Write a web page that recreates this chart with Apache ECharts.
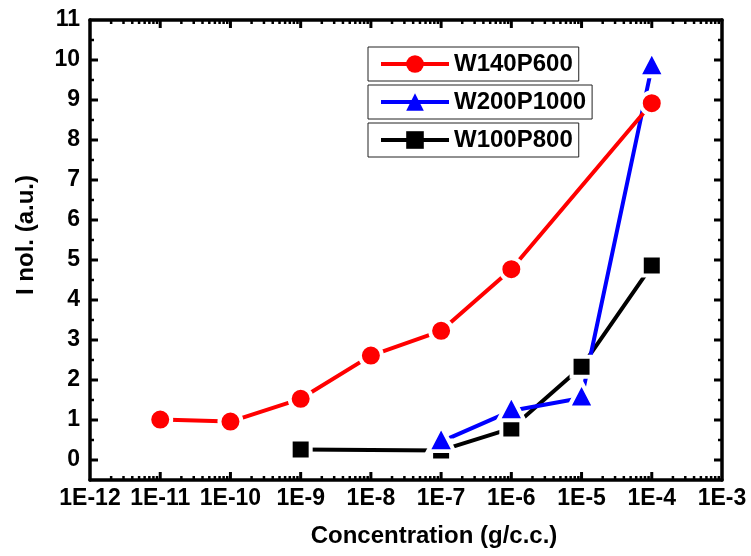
<!DOCTYPE html>
<html>
<head>
<meta charset="utf-8">
<script src="https://cdn.jsdelivr.net/npm/echarts@6/dist/echarts.min.js"></script>
<style>
  html, body { margin: 0; padding: 0; background: #fff; }
  #chart { width: 751px; height: 556px; }
</style>
</head>
<body>
<div id="chart"></div>
<script>
// Intensity vs. concentration for three sample series
const xW140P600 = [1e-11, 1e-10, 1e-9, 1e-8, 1e-7, 1e-6, 1e-4];
const yW140P600 = [1.01, 0.96, 1.53, 2.61, 3.23, 4.77, 8.92];

const xW200P1000 = [1e-7, 1e-6, 1e-5, 1e-4];
const yW200P1000 = [0.46, 1.23, 1.55, 9.83];

const xW100P800 = [1e-9, 1e-7, 1e-6, 1e-5, 1e-4];
const yW100P800 = [0.26, 0.24, 0.79, 2.33, 4.86];

// Axis ranges and ticks
const X_MIN = 1e-12, X_MAX = 1e-3;
const Y_MIN = -0.5, Y_MAX = 11;
const xDecades = [1e-12, 1e-11, 1e-10, 1e-9, 1e-8, 1e-7, 1e-6, 1e-5, 1e-4, 1e-3];
const xMinorMultipliers = [2, 3, 4, 5, 6, 7, 8, 9];
const yMajorTicks = [0, 1, 2, 3, 4, 5, 6, 7, 8, 9, 10, 11];
const yMinorTicks = [0.5, 1.5, 2.5, 3.5, 4.5, 5.5, 6.5, 7.5, 8.5, 9.5, 10.5];

const xMinorTicks = [];
xDecades.slice(0, -1).forEach(d => xMinorMultipliers.forEach(m => xMinorTicks.push(+(m * d).toPrecision(3))));

const zip = (xs, ys) => xs.map((x, i) => [x, ys[i]]);

const FONT = '"Liberation Sans", Arial, Helvetica, sans-serif';
const INK = '#000';
const MAJOR_LEN = 8, MINOR_LEN = 4;

// Tick records: [x, y, length, kind] where kind 0 = x-axis tick, 1 = y-axis tick
const tickData = []
  .concat(xDecades.filter(v => v > X_MIN && v < X_MAX).map(v => [v, Y_MIN, MAJOR_LEN, 0]))
  .concat(xMinorTicks.map(v => [v, Y_MIN, MINOR_LEN, 0]))
  .concat(yMajorTicks.filter(v => v > Y_MIN && v < Y_MAX).map(v => [X_MIN, v, MAJOR_LEN, 1]))
  .concat(yMinorTicks.map(v => [X_MIN, v, MINOR_LEN, 1]));

// Inward ticks mirrored on both opposite sides of the frame
function renderTick(params, api) {
  const cs = params.coordSys;
  const len = api.value(2);
  const kind = api.value(3);
  const p = api.coord([api.value(0), api.value(1)]);
  const style = { stroke: INK, lineWidth: len === MAJOR_LEN ? 3 : 2.5 };
  let a, b;
  if (kind === 0) {
    const yb = cs.y + cs.height, yt = cs.y;
    a = { x1: p[0], y1: yb, x2: p[0], y2: yb - len };
    b = { x1: p[0], y1: yt, x2: p[0], y2: yt + len };
  } else {
    const xl = cs.x, xr = cs.x + cs.width;
    a = { x1: xl, y1: p[1], x2: xl + len, y2: p[1] };
    b = { x1: xr, y1: p[1], x2: xr - len, y2: p[1] };
  }
  return {
    type: 'group',
    children: [
      { type: 'line', shape: a, style: style },
      { type: 'line', shape: b, style: style }
    ]
  };
}

const axisFrame = { show: true, onZero: false, lineStyle: { color: INK, width: 3.5 } };
const tickLabel = { color: INK, fontFamily: FONT, fontWeight: 'bold', fontSize: 23 };

const xAxes = [
  {
    type: 'log', logBase: 10, min: X_MIN, max: X_MAX, interval: 1, position: 'bottom',
    axisLine: axisFrame,
    axisTick: { show: false },
    axisLabel: Object.assign({ margin: 7, formatter: v => '1E' + Math.round(Math.log10(v)) }, tickLabel),
    splitLine: { show: false },
    name: 'Concentration (g/c.c.)',
    nameLocation: 'middle',
    nameGap: 44,
    nameTextStyle: { color: INK, fontFamily: FONT, fontWeight: 'bold', fontSize: 24, padding: [0, 0, 0, 56] }
  },
  {
    type: 'log', logBase: 10, min: X_MIN, max: X_MAX, interval: 1, position: 'top',
    axisLine: axisFrame, axisTick: { show: false }, axisLabel: { show: false }, splitLine: { show: false }
  }
];

const yAxes = [
  {
    type: 'value', min: Y_MIN, max: Y_MAX, position: 'left',
    axisLine: axisFrame,
    axisTick: { show: false },
    axisLabel: Object.assign({ margin: 10, customValues: yMajorTicks }, tickLabel),
    splitLine: { show: false },
    name: 'I nol. (a.u.)',
    nameLocation: 'middle',
    nameGap: 52,
    nameTextStyle: { color: INK, fontFamily: FONT, fontWeight: 'bold', fontSize: 24, padding: [0, 0, 0, 30] }
  },
  {
    type: 'value', min: Y_MIN, max: Y_MAX, position: 'right',
    axisLine: axisFrame, axisTick: { show: false }, axisLabel: { show: false }, splitLine: { show: false }
  }
];

function lineSeries(name, data, color, symbol, size, offset) {
  return {
    name: name,
    type: 'line',
    data: data,
    xAxisIndex: 0,
    yAxisIndex: 0,
    symbol: symbol,
    symbolSize: size,
    symbolOffset: offset || [0, 0],
    showAllSymbol: true,
    lineStyle: { color: color, width: 4 },
    itemStyle: { color: color, borderColor: '#fff', borderWidth: 4 },
    emphasis: { disabled: true },
    animation: false
  };
}

function legendBox(name, top) {
  return {
    data: [name],
    left: 368,
    top: top,
    orient: 'vertical',
    backgroundColor: '#fff',
    borderColor: '#222',
    borderWidth: 1,
    borderRadius: 0,
    padding: [5, 6, 5, 11],
    itemWidth: 68,
    itemHeight: 22,
    itemStyle: { borderWidth: 0 },
    lineStyle: { width: 4 },
    selectedMode: false,
    textStyle: { color: INK, fontFamily: FONT, fontWeight: 'bold', fontSize: 24 }
  };
}

const chart = echarts.init(document.getElementById('chart'), null, { renderer: 'canvas' });
chart.setOption({
  backgroundColor: '#fff',
  animation: false,
  grid: { left: 90, right: 29, top: 20, bottom: 76, containLabel: false },
  xAxis: xAxes,
  yAxis: yAxes,
  legend: [
    legendBox('W140P600', 47),
    legendBox('W200P1000', 85),
    legendBox('W100P800', 123)
  ],
  series: [
    {
      name: 'ticks',
      type: 'custom',
      xAxisIndex: 0,
      yAxisIndex: 0,
      data: tickData,
      encode: { x: 0, y: 1 },
      renderItem: renderTick,
      clip: false,
      silent: true,
      z: 1,
      animation: false
    },
    lineSeries('W100P800', zip(xW100P800, yW100P800), '#000000', 'rect', 20),
    lineSeries('W200P1000', zip(xW200P1000, yW200P1000), '#0000ff', 'triangle', [26, 25], [0, -3]),
    lineSeries('W140P600', zip(xW140P600, yW140P600), '#ff0000', 'circle', 22)
  ]
});
</script>
</body>
</html>
